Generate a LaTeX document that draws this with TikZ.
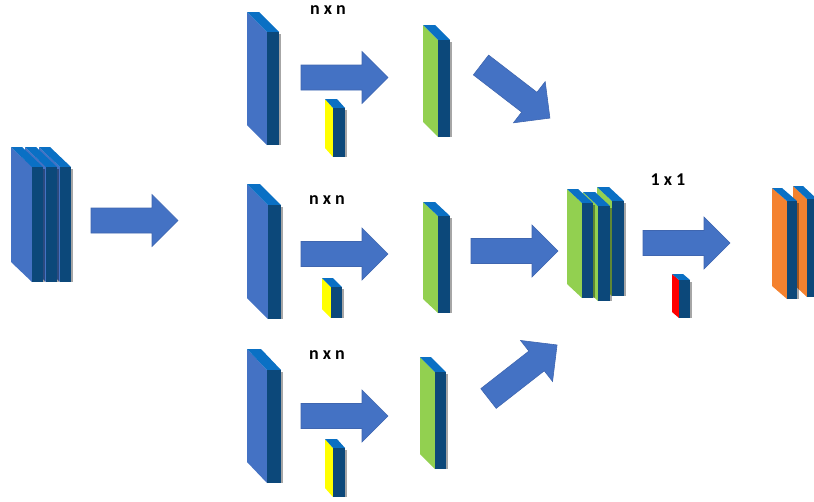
\documentclass[tikz,border=0pt]{standalone}
\usepackage{fontspec}
\setmainfont{Carlito}
\usetikzlibrary{positioning}

\definecolor{sideblue}{HTML}{4472C4}
\definecolor{topblue}{HTML}{0A70C4}
\definecolor{frontblue}{HTML}{0C487A}
\definecolor{leafgreen}{HTML}{92D050}
\definecolor{kyellow}{HTML}{FFFF00}
\definecolor{kred}{HTML}{FF0000}
\definecolor{korange}{HTML}{F4822F}
\definecolor{arrline}{HTML}{3F66B0}

\tikzstyle{arr} = [fill=sideblue, draw=arrline, line width=0.6pt, line join=miter]
\tikzstyle{lbl} = [font=\fontsize{18}{21}\selectfont\bfseries, inner sep=0pt]

% slab: x, y (top corner of side face), dx, dy (depth), w, h (front face), side colour
\newcommand{\slab}[7]{%
  \fill[black, opacity=0.35] (#1+#3+#5,#2+#4+2) rectangle ++(2,#6-2);
  \fill[#7] (#1,#2) -- ++(#3,#4) -- ++(0,#6) -- ++(-#3,-#4) -- cycle;
  \fill[topblue] (#1,#2) -- ++(#5,0) -- ++(#3,#4) -- ++(-#5,0) -- cycle;
  \fill[frontblue] (#1+#3,#2+#4) rectangle ++(#5,#6);
}
% block arrow from tail centre, turned by angle
\newcommand{\blkarrow}[3]{%
  \begin{scope}[shift={(#1,#2)},rotate=#3]
    \filldraw[arr] (0,-12.5) -- (61,-12.5) -- (61,-26) -- (87,0) -- (61,26)
      -- (61,12.5) -- (0,12.5) -- cycle;
  \end{scope}
}

\begin{document}
\begin{tikzpicture}[x=1pt,y=-1pt]
  \clip (0,0) rectangle (814,501);

  % input
  \slab{39}{147}{21}{20}{11}{115}{sideblue}
  \slab{25}{147}{21}{20}{11}{115}{sideblue}
  \slab{11}{147}{21}{20}{11}{115}{sideblue}
  \blkarrow{91}{220.5}{0}

  % three branches
  \slab{247}{12}{20}{20}{12}{113}{sideblue}
  \slab{247}{184}{21}{21}{13}{114}{sideblue}
  \slab{247}{349}{20}{21}{14}{113}{sideblue}

  \node[lbl] (k1) at (328,10)  {n x n};
  \node[lbl] (k2) at (327,200) {n x n};
  \node[lbl] (k3) at (327,355) {n x n};

  \blkarrow{301}{77.5}{0}
  \blkarrow{301}{254}{0}
  \blkarrow{301}{416}{0}

  \slab{325}{99}{8}{9}{12}{49}{kyellow}
  \slab{322}{278}{9}{9}{11}{31}{kyellow}
  \slab{325}{439}{8}{9}{12}{49}{kyellow}

  \slab{423}{25}{15}{15}{12}{97}{leafgreen}
  \slab{423}{202}{15}{14}{12}{97}{leafgreen}
  \slab{420}{357}{15}{15}{11}{97}{leafgreen}

  \blkarrow{481}{65}{-37.6}
  \blkarrow{471}{251}{0}
  \blkarrow{488.5}{398.5}{38}

  % concatenation
  \slab{597}{187}{15}{14}{12}{95}{leafgreen}
  \slab{583}{192}{15}{14}{12}{95}{leafgreen}
  \slab{567}{189}{15}{14}{11}{95}{leafgreen}

  % 1x1 conv
  \node[lbl] (k4) at (668,180) {1 x 1};
  \blkarrow{643}{243}{0}
  \slab{672}{274}{7}{6}{11}{38}{kred}

  % output
  \slab{793}{186}{14}{13}{10}{98}{korange}
  \slab{772}{188}{15}{13}{10}{98}{korange}
\end{tikzpicture}
\end{document}
